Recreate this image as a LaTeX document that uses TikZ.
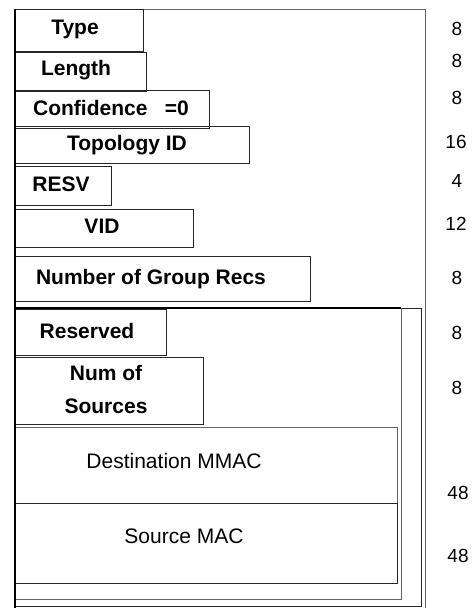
\documentclass[tikz,border=0pt]{standalone}
\usepackage{fontspec}
\setmainfont{Liberation Sans}
\begin{document}
\begin{tikzpicture}[x=1pt,y=-1pt,
  fieldbox/.style={draw=black!85,line width=0.9pt},
  framebox/.style={draw=black!60,line width=0.9pt},
  blabel/.style={font=\fontsize{21}{33}\selectfont\bfseries,inner sep=0pt,align=center,yshift=-2pt},
  rlabel/.style={font=\fontsize{21}{24}\selectfont,inner sep=0pt},
  bits/.style={font=\fontsize{19}{21}\selectfont,inner sep=0pt}]
\useasboundingbox (0,0) rectangle (473,608);
\begin{scope}
\clip (0,0) rectangle (473,608);
% outer frames
\draw[framebox] (15,9) rectangle (425,615);
\draw[fieldbox] (15,308) rectangle (421,606);
\draw[framebox] (15,308) rectangle (401,599);
\draw[black,line width=1.8pt] (15,308) -- (401,308);
% fields
\draw[fieldbox] (15,9) rectangle (143,51);
\draw[fieldbox] (15,52) rectangle (146,91);
\draw[fieldbox] (15,90) rectangle (209,128);
\draw[fieldbox] (15,126) rectangle (249,163);
\draw[fieldbox] (15,166) rectangle (111,205);
\draw[fieldbox] (15,209) rectangle (193,247);
\draw[fieldbox] (15,256) rectangle (310,301);
\draw[fieldbox] (15,309) rectangle (166,355);
\draw[fieldbox] (15,357) rectangle (203,424);
\draw[framebox] (15,427) rectangle (397,503);
\draw[fieldbox] (15,503) rectangle (397,583);
\draw[black,line width=1.8pt] (15,9) -- (15,608);
\end{scope}
% labels
\node[blabel] (ltype) at (75,27) {Type};
\node[blabel] (llen) at (76,68) {Length};
\node[blabel] (lconf) at (111,106) {Confidence\ \ \ =0};
\node[blabel] (ltopo) at (127,143) {Topology ID};
\node[blabel] (lresv) at (61,182) {RESV};
\node[blabel] (lvid) at (102,224) {VID};
\node[blabel] (lngr) at (151,277) {Number of Group Recs};
\node[blabel] (lres) at (87,329) {Reserved};
\node[blabel] (lnos) at (106,387) {Num of\\Sources};
\node[rlabel] (ldm) at (174,461) {Destination MMAC};
\node[rlabel] (lsm) at (184,536) {Source MAC};
% bit widths
\node[bits] (b1) at (457,29) {8};
\node[bits] (b2) at (457,61) {8};
\node[bits] (b3) at (457,98) {8};
\node[bits] (b4) at (456,142) {16};
\node[bits] (b5) at (457,181) {4};
\node[bits] (b6) at (456,224) {12};
\node[bits] (b7) at (457,278) {8};
\node[bits] (b8) at (457,333) {8};
\node[bits] (b9) at (457,388) {8};
\node[bits] (b10) at (458,493) {48};
\node[bits] (b11) at (458,556) {48};
\end{tikzpicture}
\end{document}
